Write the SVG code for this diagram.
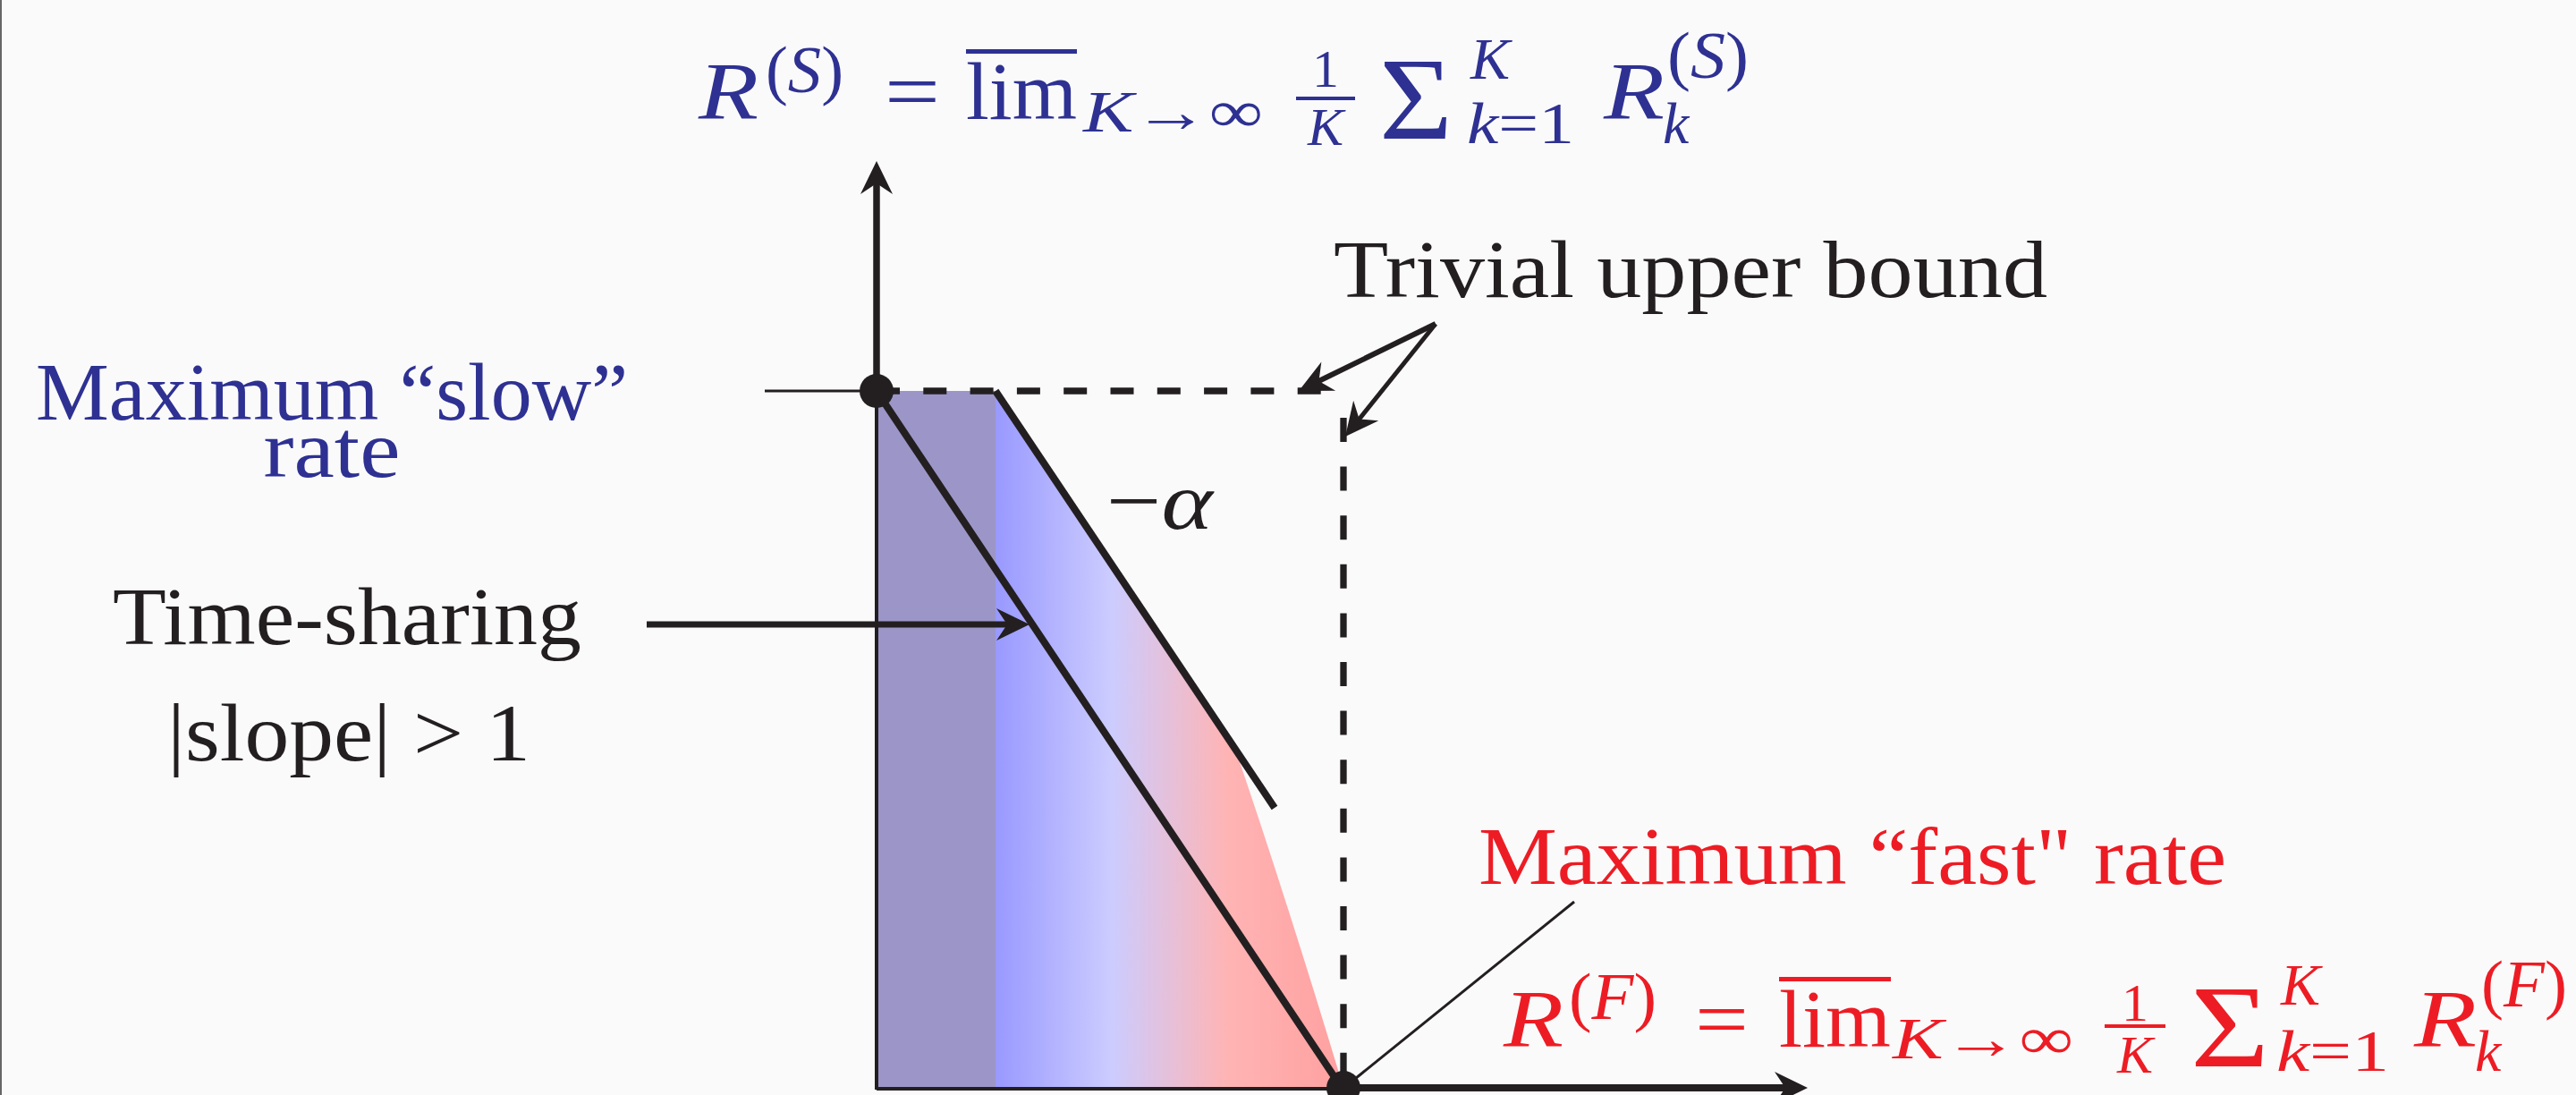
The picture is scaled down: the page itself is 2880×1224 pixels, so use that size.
<svg xmlns="http://www.w3.org/2000/svg" width="2880" height="1224" viewBox="0 0 2880 1224">
<style>
.t{font-family:"Liberation Serif","Times New Roman",serif;font-size:92px}
.s{font-size:66px}
.p{font-size:74px}
.f{font-size:60px}
.it{font-style:italic}
.blue{fill:#2e3192}
.red{fill:#ed1c24}
.blk{fill:#231f20}
.ln{stroke:#231f20;fill:none}
</style>
<defs>
<linearGradient id="grad" gradientUnits="userSpaceOnUse" x1="1113" y1="0" x2="1502" y2="0">
<stop offset="0" stop-color="#9999ff"/>
<stop offset="0.333" stop-color="#ccccff"/>
<stop offset="0.667" stop-color="#ffb4b4"/>
<stop offset="1" stop-color="#ffa0a0"/>
</linearGradient>
<marker id="ah" viewBox="-62 -20 64 40" refX="-22" refY="0" markerWidth="64" markerHeight="40" markerUnits="userSpaceOnUse" orient="auto">
<path d="M0,0 L-37,-18 L-25,0 L-37,18 Z" fill="#231f20"/>
</marker>
</defs>
<rect width="2880" height="1224" fill="#fafafa"/>
<line x1="1" y1="0" x2="1" y2="1224" stroke="#666" stroke-width="2"/>

<g id="region">
<rect x="982" y="437" width="131" height="779" fill="#9c96c8"/>
<path d="M1113,437 L1381,837 Q1440,1010 1502,1216 L1113,1216 Z" fill="url(#grad)"/>
</g>

<g id="connectors">
<line class="ln" x1="980" y1="1218" x2="980" y2="437" stroke-width="4"/>
<line class="ln" x1="980" y1="437" x2="980" y2="202" stroke-width="7.5" marker-end="url(#ah)"/>
<line class="ln" x1="980" y1="1217" x2="1502" y2="1217" stroke-width="4"/>
<line class="ln" x1="1502" y1="1216" x2="1999" y2="1216" stroke-width="8" marker-end="url(#ah)"/>
<line class="ln" x1="855" y1="437" x2="980" y2="437" stroke-width="3"/>
<line class="ln" x1="980" y1="437" x2="1503" y2="437" stroke-width="7.3" stroke-dasharray="26 26.3"/>
<line class="ln" x1="1502" y1="467" x2="1502" y2="1212" stroke-width="7.3" stroke-dasharray="27 27.6"/>
<line class="ln" x1="980" y1="437" x2="1500" y2="1216" stroke-width="8"/>
<line class="ln" x1="1113" y1="437" x2="1425" y2="903" stroke-width="8"/>
<line class="ln" x1="723" y1="698" x2="1129" y2="698" stroke-width="7" marker-end="url(#ah)"/>
<line class="ln" x1="1605" y1="362" x2="1471.8" y2="427.3" stroke-width="6" marker-end="url(#ah)"/>
<line class="ln" x1="1605" y1="362" x2="1517.8" y2="470.8" stroke-width="5" marker-end="url(#ah)"/>
<line class="ln" x1="1760" y1="1008" x2="1505" y2="1214" stroke-width="3"/>
<circle cx="980" cy="437" r="19" fill="#231f20"/>
<circle cx="1502" cy="1216" r="19" fill="#231f20"/>
</g>

<g id="label-trivial">
<text class="t blk" x="1491" y="332" textLength="798" lengthAdjust="spacingAndGlyphs">Trivial upper bound</text>
</g>
<g id="label-slow">
<text class="t blue" x="371" y="469" text-anchor="middle" textLength="662" lengthAdjust="spacingAndGlyphs">Maximum “slow”</text>
<text class="t blue" x="371" y="533" text-anchor="middle" textLength="153" lengthAdjust="spacingAndGlyphs">rate</text>
</g>
<g id="label-timesharing">
<text class="t blk" x="126" y="720" textLength="524" lengthAdjust="spacingAndGlyphs">Time-sharing</text>
<text class="t blk" x="187" y="850" textLength="406" lengthAdjust="spacingAndGlyphs">|slope| &gt; 1</text>
</g>
<g id="label-alpha">
<text class="t blk" x="1237" y="591" textLength="119" lengthAdjust="spacingAndGlyphs">−<tspan class="it">α</tspan></text>
</g>
<g id="label-fast">
<text class="t red" x="1653" y="988" textLength="836" lengthAdjust="spacingAndGlyphs">Maximum “fast" rate</text>
</g>

<g id="formula-slow" class="blue">
<text class="t it" x="781" y="133" textLength="67" lengthAdjust="spacingAndGlyphs">R</text>
<text class="t p" x="856" y="103" textLength="87" lengthAdjust="spacingAndGlyphs">(<tspan class="it">S</tspan>)</text>
<text class="t" x="989" y="133" textLength="62" lengthAdjust="spacingAndGlyphs">=</text>
<text class="t" x="1080" y="133" textLength="124" lengthAdjust="spacingAndGlyphs">lim</text>
<rect x="1080" y="55" width="124" height="5" fill="#2e3192"/>
<text class="t s" x="1211" y="147" textLength="201" lengthAdjust="spacingAndGlyphs"><tspan class="it">K</tspan>→∞</text>
<text class="t f" x="1482" y="97" text-anchor="middle">1</text>
<rect x="1449" y="108" width="66" height="4" fill="#2e3192"/>
<text class="t f it" x="1482" y="162" text-anchor="middle">K</text>
<text class="t" x="1542" y="155" style="font-size:132px" textLength="82" lengthAdjust="spacingAndGlyphs">Σ</text>
<text class="t s it" x="1644" y="88">K</text>
<text class="t s" x="1640" y="160" textLength="120" lengthAdjust="spacingAndGlyphs"><tspan class="it">k</tspan>=1</text>
<text class="t it" x="1793" y="133" textLength="68" lengthAdjust="spacingAndGlyphs">R</text>
<text class="t p" x="1864" y="87" textLength="91" lengthAdjust="spacingAndGlyphs">(<tspan class="it">S</tspan>)</text>
<text class="t s it" x="1859" y="160">k</text>
</g>

<g id="formula-fast" class="red">
<text class="t it" x="1681" y="1170" textLength="67" lengthAdjust="spacingAndGlyphs">R</text>
<text class="t p" x="1754" y="1139" textLength="98" lengthAdjust="spacingAndGlyphs">(<tspan class="it">F</tspan>)</text>
<text class="t" x="1895" y="1170" textLength="60" lengthAdjust="spacingAndGlyphs">=</text>
<text class="t" x="1989" y="1170" textLength="125" lengthAdjust="spacingAndGlyphs">lim</text>
<rect x="1989" y="1092" width="125" height="5" fill="#ed1c24"/>
<text class="t s" x="2116" y="1183" textLength="202" lengthAdjust="spacingAndGlyphs"><tspan class="it">K</tspan>→∞</text>
<text class="t f" x="2387" y="1141" text-anchor="middle">1</text>
<rect x="2353" y="1145" width="68" height="4" fill="#ed1c24"/>
<text class="t f it" x="2387" y="1199" text-anchor="middle">K</text>
<text class="t" x="2449" y="1192" style="font-size:132px" textLength="88" lengthAdjust="spacingAndGlyphs">Σ</text>
<text class="t s it" x="2550" y="1123">K</text>
<text class="t s" x="2545" y="1197" textLength="126" lengthAdjust="spacingAndGlyphs"><tspan class="it">k</tspan>=1</text>
<text class="t it" x="2699" y="1170" textLength="70" lengthAdjust="spacingAndGlyphs">R</text>
<text class="t p" x="2774" y="1125" textLength="96" lengthAdjust="spacingAndGlyphs">(<tspan class="it">F</tspan>)</text>
<text class="t s it" x="2767" y="1197">k</text>
</g>
</svg>
